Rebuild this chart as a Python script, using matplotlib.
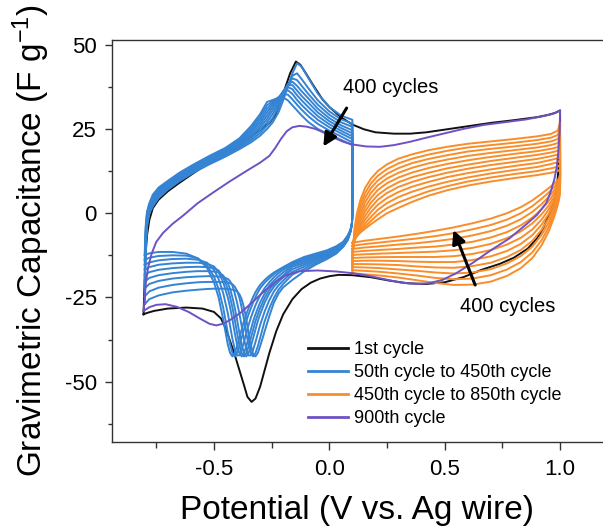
import matplotlib
matplotlib.use('Agg')
import matplotlib.pyplot as plt
from matplotlib.ticker import MultipleLocator, FormatStrFormatter
from matplotlib.lines import Line2D

plt.rcParams['font.family'] = ['Liberation Sans', 'DejaVu Sans']
plt.rcParams['mathtext.fontset'] = 'custom'
plt.rcParams['mathtext.rm'] = 'Liberation Sans'
plt.rcParams['mathtext.it'] = 'Liberation Sans'
plt.rcParams['axes.unicode_minus'] = False

# 1st cycle, -0.8 -> 1.0 -> -0.8 V
first_x = [-0.805, -0.803, -0.8, -0.796, -0.79, -0.78, -0.765, -0.74, -0.70, -0.65, -0.58, -0.50,
           -0.42, -0.35, -0.30, -0.26, -0.235, -0.215, -0.195, -0.17, -0.145, -0.125, -0.10, -0.07,
           -0.03, 0.0, 0.05, 0.10, 0.15, 0.20, 0.28, 0.35, 0.42, 0.50, 0.60, 0.70, 0.80, 0.90, 0.95,
           0.98, 1.0,
           1.0, 0.998, 0.993, 0.985, 0.97, 0.955, 0.93, 0.90, 0.86, 0.80, 0.74, 0.66, 0.58, 0.50,
           0.42, 0.34, 0.26, 0.18, 0.10, 0.04, 0.0, -0.04, -0.08, -0.12, -0.16, -0.20, -0.23, -0.26,
           -0.28, -0.30, -0.32, -0.337, -0.355, -0.37, -0.39, -0.41, -0.43, -0.45, -0.47, -0.50,
           -0.55, -0.62, -0.70, -0.76, -0.79, -0.805]
first_y = [-30, -25, -19, -12, -6.5, -2, 1.5, 4, 6.5, 9, 12.3, 15.8,
           19.3, 22.3, 24.6, 26.7, 29, 32.5, 36.5, 41.5, 45, 44, 41.3, 38,
           33.8, 31.5, 28.5, 26.3, 24.9, 24, 23.6, 23.6, 24, 24.8, 25.8, 26.8, 27.6, 28.5, 29.2,
           29.8, 30.5,
           26, 20, 13, 7, 2.5, 0, -4, -7.5, -10.5, -13.2, -15, -16.8, -19, -20.5,
           -21, -20.8, -20, -19, -18.4, -18.3, -18.7, -19.4, -20.6, -22.5, -25.5, -30, -35, -41.5,
           -46.5, -51.5, -55, -56, -54.5, -51, -46.5, -42, -38, -34, -31.2, -29.3,
           -28.3, -28, -28.3, -29, -29.6, -30]

# 900th cycle
last_x = [-0.805, -0.80, -0.795, -0.785, -0.77, -0.75, -0.72, -0.68, -0.63, -0.57, -0.50, -0.43,
          -0.36, -0.30, -0.26, -0.235, -0.21, -0.185, -0.16, -0.13, -0.10, -0.06, -0.02, 0.02,
          0.06, 0.10, 0.16, 0.22, 0.28, 0.35, 0.42, 0.50, 0.58, 0.67, 0.76, 0.85, 0.92, 0.97, 1.0,
          0.998, 0.992, 0.985, 0.975, 0.96, 0.94, 0.90, 0.85, 0.78, 0.70, 0.62, 0.55, 0.49, 0.43,
          0.38, 0.31, 0.24, 0.17, 0.10, 0.03, -0.05, -0.13, -0.19, -0.23, -0.28, -0.33, -0.38,
          -0.42, -0.46, -0.49, -0.52, -0.56, -0.61, -0.66, -0.71, -0.75, -0.78, -0.805]
last_y = [-29, -25, -20.5, -16, -12, -8.5, -5.8, -3.2, -0.5, 3, 6.3, 9.5,
          12.5, 15, 17, 19.3, 22, 24.3, 25.5, 25.9, 25.7, 25, 23.8, 22.4,
          21.2, 20.4, 19.8, 19.7, 20.2, 21.2, 22.4, 23.7, 25, 26.2, 27, 27.8, 28.7, 29.5, 30.5,
          24, 18, 13.5, 10, 6.5, 3, -0.5, -3.5, -7.5, -11, -14.8, -17.8, -19.8, -20.8,
          -21, -20.6, -19.6, -18.6, -17.8, -17.3, -17, -17.2, -18.5, -20.2, -23, -26.2, -29.3,
          -31.3, -32.8, -33.3, -32.8, -31.3, -29.3, -27.8, -27, -27.2, -27.9, -29]

# 50th .. 450th cycle (every 50), window -0.8 .. 0.1 V
blue_up_x = [-0.80, -0.799, -0.797, -0.794, -0.79, -0.78, -0.765, -0.74, -0.70, -0.65, -0.59,
             -0.52, -0.45, -0.39, -0.34, -0.30, -0.27, -0.245, -0.22, -0.20, -0.18, -0.16, -0.14,
             -0.12, -0.09, -0.05, 0.0, 0.05, 0.10]
blue_up_y = [
    [-27, -21, -14, -8, -4, 0, 2, 4.5, 7, 9.5, 12, 14.5, 16.8, 19, 21, 23, 25, 27, 30, 33.5, 37.5, 41.5, 44.5, 43.5, 40, 35.5, 31.5, 29, 27.7],
    [-24.7, -19.5, -13, -7.5, -3.5, 0.3, 2.4, 4.8, 7.3, 9.8, 12.3, 14.8, 17.1, 19.4, 21.6, 23.8, 26, 28.3, 31.5, 34.5, 38, 40.8, 41.5, 39.8, 37, 33.5, 30.2, 27.9, 26.6],
    [-22.3, -18, -12, -7, -3, 0.6, 2.8, 5.2, 7.6, 10.1, 12.6, 15.1, 17.4, 19.8, 22.2, 24.6, 27, 29.5, 32.5, 35.2, 38.2, 40, 39.5, 37.8, 35.3, 32.2, 29.2, 27, 25.6],
    [-20.3, -16.5, -11, -6.5, -2.5, 1, 3.2, 5.6, 7.9, 10.4, 12.9, 15.4, 17.7, 20.2, 22.8, 25.4, 28, 30.6, 33.2, 35.8, 38.2, 39, 37.8, 36.2, 34, 31, 28.2, 26.1, 24.6],
    [-18.3, -15, -10, -5.5, -2, 1.4, 3.6, 6, 8.2, 10.7, 13.2, 15.7, 18, 20.6, 23.4, 26.2, 29, 31.5, 33.8, 36.2, 38, 38, 36.4, 34.8, 32.7, 29.9, 27.3, 25.3, 23.7],
    [-16.8, -13.5, -9, -4.5, -1.5, 1.8, 4, 6.4, 8.5, 11, 13.5, 16, 18.3, 21, 24, 27, 30, 32.2, 34.2, 36.2, 37.4, 36.8, 35, 33.5, 31.4, 28.8, 26.4, 24.5, 22.8],
    [-15.3, -12, -8, -4, -1, 2.2, 4.5, 6.8, 8.8, 11.3, 13.8, 16.3, 18.6, 21.4, 24.6, 27.8, 31, 32.8, 34.4, 35.9, 36.5, 35.4, 33.6, 32.1, 30.1, 27.7, 25.5, 23.7, 22],
    [-13.9, -10.5, -6.5, -3, 0, 2.6, 5, 7.2, 9.2, 11.6, 14.1, 16.6, 19, 21.8, 25.2, 28.6, 32, 33.3, 34.4, 35.3, 35.2, 33.8, 32.2, 30.7, 28.7, 26.5, 24.5, 22.8, 21],
    [-12.5, -9, -5, -2, 0.5, 3, 5.5, 7.6, 9.6, 12, 14.4, 17, 19.4, 22.2, 25.8, 29.4, 33, 33.6, 34.2, 34.3, 33.5, 32, 30.5, 29, 27, 25, 23.3, 21.8, 20.2],
]
blue_dn_x = [0.10, 0.098, 0.092, 0.08, 0.06, 0.03, -0.01, -0.06, -0.11, -0.16, -0.20, -0.22,
             -0.24, -0.26, -0.28, -0.30, -0.31, -0.32, -0.33, -0.34, -0.35, -0.36, -0.37, -0.38,
             -0.39, -0.40, -0.41, -0.42, -0.43, -0.44, -0.46, -0.48, -0.50, -0.53, -0.57, -0.62,
             -0.68, -0.74, -0.78, -0.80]
blue_dn_y = [
    [0, -3, -5.5, -8, -10, -12, -13.6, -15.3, -17.3, -19.8, -22, -23.8, -26.5, -30.5, -35, -39.5, -41.5, -42.5, -42, -39, -35.5, -31.5, -28, -25.5, -24, -23.2, -22.9, -22.7, -22.6, -22.5, -22.4, -22.4, -22.4, -22.5, -22.7, -23, -23.5, -24.4, -25.5, -27],
    [0, -3, -5.4, -7.8, -9.8, -11.7, -13.2, -14.8, -16.6, -18.2, -21, -22.7, -25.1, -28.2, -32, -37, -39.5, -41.5, -42.5, -41.5, -39, -35.5, -31.5, -28, -25, -23, -21.8, -21.1, -20.8, -20.6, -20.5, -20.4, -20.4, -20.4, -20.5, -20.8, -21.3, -22.1, -23.2, -24.7],
    [0, -3, -5.3, -7.6, -9.6, -11.4, -12.8, -14.3, -15.9, -17.4, -20, -21.4, -23.2, -25.8, -29.1, -33.2, -35.7, -38.2, -40.5, -42.2, -42.2, -40.3, -37.3, -33.5, -29.7, -26.5, -23.8, -21.5, -20.2, -19.5, -19, -18.8, -18.7, -18.7, -18.8, -19, -19.4, -20.1, -21, -22.3],
    [0, -3, -5.2, -7.4, -9.4, -11.1, -12.5, -13.8, -15.3, -16.6, -19, -20.3, -21.8, -23.8, -26.5, -30, -32, -34.5, -37, -39.5, -41.5, -42.5, -41.5, -39, -35.5, -31.5, -28, -25, -22.5, -20.7, -18.5, -17.6, -17.3, -17.2, -17.2, -17.4, -17.8, -18.4, -19.2, -20.3],
    [0, -3, -5.2, -7.3, -9.2, -10.8, -12.2, -13.4, -14.8, -15.9, -18.5, -19.6, -21, -22.7, -25.1, -28.2, -30, -32, -34.5, -37, -39.5, -41.5, -42.5, -41.5, -39, -35.5, -31.5, -28, -25, -22.5, -19, -17, -16.3, -16, -15.9, -16, -16.3, -16.8, -17.5, -18.3],
    [0, -3, -5.1, -7.1, -9.0, -10.6, -11.9, -13.0, -14.3, -15.4, -17.6, -18.7, -20, -21.5, -23.8, -26.5, -28.2, -30, -32, -34.5, -37, -39.5, -41.5, -42.5, -41.5, -39, -35.5, -31.5, -28, -25, -20.5, -17.5, -15.8, -15, -14.7, -14.7, -14.9, -15.3, -16, -16.8],
    [0, -3, -5.0, -6.9, -8.8, -10.3, -11.6, -12.6, -13.8, -15, -16.8, -17.8, -19, -20.5, -22.2, -24.4, -25.8, -27.3, -29.1, -31, -33.2, -35.7, -38.2, -40.5, -42.2, -42.2, -40.3, -37.3, -33.5, -29.7, -23.7, -19.5, -16.8, -14.7, -13.8, -13.5, -13.6, -14, -14.6, -15.3],
    [0, -3, -4.9, -6.7, -8.6, -10.0, -11.3, -12.3, -13.4, -14.7, -16.3, -17.1, -18.1, -19.3, -20.6, -22.3, -23.5, -24.9, -26.4, -28.2, -30, -32, -34.5, -37, -39.5, -41.5, -42.5, -41.5, -39, -35.5, -28, -22.5, -18.8, -15.5, -13.4, -12.6, -12.5, -12.7, -13.2, -13.9],
    [0, -3, -4.8, -6.6, -8.5, -9.8, -11, -12, -13, -14.5, -16, -16.8, -17.6, -18.6, -19.8, -21.3, -22.3, -23.4, -24.8, -26.4, -28.2, -30, -32, -34.5, -37, -39.5, -41.5, -42.5, -41.5, -39, -31.5, -25, -20.5, -16.2, -13.4, -12, -11.5, -11.5, -11.9, -12.5],
]

# 450th .. 850th cycle (every 40), window 0.1 .. 1.0 V
orange_up_x = [0.10, 0.101, 0.104, 0.11, 0.12, 0.135, 0.155, 0.18, 0.21, 0.25, 0.30, 0.36, 0.43,
               0.51, 0.60, 0.70, 0.80, 0.90, 0.96, 0.99, 1.0]
orange_up_y = [
    [-17.8, -14, -9, -4, 0, 4, 7.5, 10.2, 12.5, 14.5, 16.2, 17.5, 18.7, 19.7, 20.6, 21.3, 22, 22.8, 23.5, 24.5, 27],
    [-16.9, -13.6, -9.3, -4.9, -1.2, 2.6, 6, 8.8, 11.1, 13.1, 14.8, 16.2, 17.4, 18.5, 19.5, 20.2, 20.9, 21.7, 22.4, 23.2, 25.5],
    [-16, -13.2, -9.6, -5.7, -2.3, 1.3, 4.6, 7.4, 9.7, 11.7, 13.4, 14.9, 16.1, 17.2, 18.3, 19.1, 19.8, 20.6, 21.3, 22, 24],
    [-15.1, -12.8, -9.8, -6.4, -3.3, 0, 3.2, 6, 8.3, 10.3, 12, 13.5, 14.8, 15.9, 17, 17.9, 18.7, 19.5, 20.2, 20.8, 22.5],
    [-14.2, -12.4, -9.9, -7, -4.2, -1.2, 1.8, 4.5, 6.9, 8.9, 10.6, 12.1, 13.4, 14.6, 15.7, 16.7, 17.6, 18.4, 19.1, 19.6, 21],
    [-13.3, -11.9, -9.9, -7.5, -5, -2.3, 0.5, 3.1, 5.4, 7.4, 9.2, 10.7, 12, 13.3, 14.4, 15.5, 16.4, 17.3, 18, 18.5, 19.6],
    [-12.4, -11.3, -9.8, -7.8, -5.7, -3.3, -0.8, 1.7, 4, 6, 7.8, 9.3, 10.7, 12, 13.2, 14.3, 15.2, 16.1, 16.9, 17.4, 18.3],
    [-11.5, -10.7, -9.5, -7.9, -6.2, -4.1, -2, 0.3, 2.5, 4.5, 6.3, 7.9, 9.3, 10.7, 11.9, 13, 14, 14.9, 15.8, 16.3, 17],
    [-10.6, -10, -9.1, -7.9, -6.6, -4.9, -3.1, -1.1, 1, 3, 4.8, 6.4, 7.9, 9.3, 10.6, 11.8, 12.8, 13.7, 14.6, 15.1, 15.8],
    [-9.7, -9.3, -8.7, -7.8, -6.8, -5.5, -4, -2.3, -0.4, 1.5, 3.2, 4.8, 6.5, 8, 9.4, 10.6, 11.6, 12.5, 13.3, 13.8, 14.4],
    [-8.8, -8.5, -8.1, -7.5, -6.7, -5.7, -4.6, -3.3, -1.8, 0, 1.6, 3.4, 5.2, 6.8, 8.2, 9.4, 10.4, 11.3, 12, 12.5, 13],
]
orange_dn_x = [1.0, 0.998, 0.99, 0.975, 0.95, 0.92, 0.88, 0.83, 0.77, 0.70, 0.62, 0.54, 0.46,
               0.38, 0.30, 0.22, 0.15, 0.10]
orange_dn_y = [
    [8, 5, 2.5, -1, -5.5, -9.5, -13.3, -16.3, -18.6, -20.3, -21.2, -21.3, -20.7, -19.9, -19.1, -18.5, -18.1, -17.8],
    [8.35, 5.6, 3.2, 0, -4.2, -8, -11.6, -14.5, -16.7, -18.4, -19.4, -19.6, -19.2, -18.5, -17.9, -17.4, -17.1, -16.9],
    [8.7, 6.2, 4, 1, -2.9, -6.4, -9.9, -12.7, -14.9, -16.6, -17.6, -17.9, -17.6, -17.1, -16.7, -16.3, -16.1, -16],
    [9.05, 6.7, 4.7, 1.9, -1.6, -4.9, -8.2, -10.9, -13, -14.7, -15.7, -16.2, -16.1, -15.8, -15.4, -15.2, -15.1, -15.1],
    [9.4, 7.3, 5.4, 2.9, -0.3, -3.4, -6.5, -9.1, -11.2, -12.8, -13.9, -14.5, -14.5, -14.4, -14.2, -14.1, -14.1, -14.2],
    [9.75, 7.9, 6.2, 3.9, 1, -1.9, -4.8, -7.3, -9.3, -10.95, -12.1, -12.75, -13, -13, -13, -13.05, -13.15, -13.3],
    [10.1, 8.5, 6.9, 4.9, 2.2, -0.3, -3, -5.4, -7.4, -9.1, -10.3, -11, -11.4, -11.6, -11.8, -12, -12.2, -12.4],
    [10.45, 9.1, 7.6, 5.9, 3.5, 1.2, -1.3, -3.6, -5.6, -7.2, -8.5, -9.3, -9.9, -10.2, -10.6, -10.9, -11.2, -11.5],
    [10.8, 9.6, 8.3, 6.8, 4.8, 2.7, 0.4, -1.8, -3.7, -5.3, -6.6, -7.6, -8.3, -8.9, -9.3, -9.8, -10.2, -10.6],
    [11.15, 10.2, 9.1, 7.8, 6.1, 4.3, 2.1, 0, -1.9, -3.5, -4.8, -5.9, -6.8, -7.5, -8.1, -8.7, -9.2, -9.7],
    [11.5, 10.8, 9.8, 8.8, 7.4, 5.8, 3.8, 1.8, 0, -1.6, -3, -4.2, -5.2, -6.1, -6.9, -7.6, -8.2, -8.8],
]

labels = ['1st cycle', '50th cycle to 450th cycle', '450th cycle to 850th cycle', '900th cycle']
c_first = '#111111'
c_blue = '#3584d4'
c_orange = '#f98d2a'
c_last = '#6e52c4'

fig = plt.figure(figsize=(6.03, 5.31), dpi=100)
ax = fig.add_axes([0.1857, 0.1676, 0.8143, 0.7571])

lw = 1.4
ax.plot(first_x, first_y, color=c_first, lw=lw)
for up, dn in zip(blue_up_y, blue_dn_y):
    ax.plot(blue_up_x + blue_dn_x, up + dn, color=c_blue, lw=lw)
for up, dn in zip(orange_up_y, orange_dn_y):
    ax.plot(orange_up_x + orange_dn_x, up + dn, color=c_orange, lw=lw)
ax.plot(last_x, last_y, color=c_last, lw=lw)

# arrows and notes
arrow = dict(arrowstyle='-|>', color='black', lw=2.2, mutation_scale=20, shrinkA=0, shrinkB=0)
ax.annotate('', xy=(-0.026, 19.8), xytext=(0.075, 31.2), arrowprops=arrow)
ax.annotate('', xy=(0.538, -5), xytext=(0.632, -21.3), arrowprops=arrow)
ax.text(0.059, 37.3, '400 cycles', fontsize=14.5, ha='left', va='center')
ax.text(0.567, -27.7, '400 cycles', fontsize=14.5, ha='left', va='center')

ax.set_xlim(-0.942, 1.186)
ax.set_ylim(-67.9, 51.4)
ax.xaxis.set_major_locator(MultipleLocator(0.5))
ax.xaxis.set_minor_locator(MultipleLocator(0.25))
ax.yaxis.set_major_locator(MultipleLocator(25))
ax.yaxis.set_minor_locator(MultipleLocator(12.5))
ax.xaxis.set_major_formatter(FormatStrFormatter('%.1f'))
ax.tick_params(which='both', direction='out', top=False, right=False, labelsize=16, color='#333333')
ax.tick_params(axis='x', which='major', length=6, width=1, pad=6)
ax.tick_params(axis='x', which='minor', length=4, width=1)
ax.tick_params(axis='y', which='major', length=5, width=1, pad=6)
ax.tick_params(axis='y', which='minor', length=3, width=1)
for s in ['left', 'bottom', 'top']:
    ax.spines[s].set_color('#333333')
    ax.spines[s].set_linewidth(1.0)
ax.spines['right'].set_visible(False)

ax.set_xlabel('Potential (V vs. Ag wire)', fontsize=24, labelpad=11)
ax.set_ylabel('Gravimetric Capacitance (F g$^{\\mathregular{-1}}$)', fontsize=24, labelpad=9)

handles = [Line2D([0], [0], color=c, lw=2) for c in [c_first, c_blue, c_orange, c_last]]
fig.legend(handles, labels, loc='upper left', bbox_to_anchor=(308 / 603, 1 - 341 / 531),
           frameon=False, fontsize=13, handlelength=2.2, handletextpad=0.35,
           labelspacing=0.33, borderpad=0, borderaxespad=0)

fig.savefig('out.png', dpi=100)
